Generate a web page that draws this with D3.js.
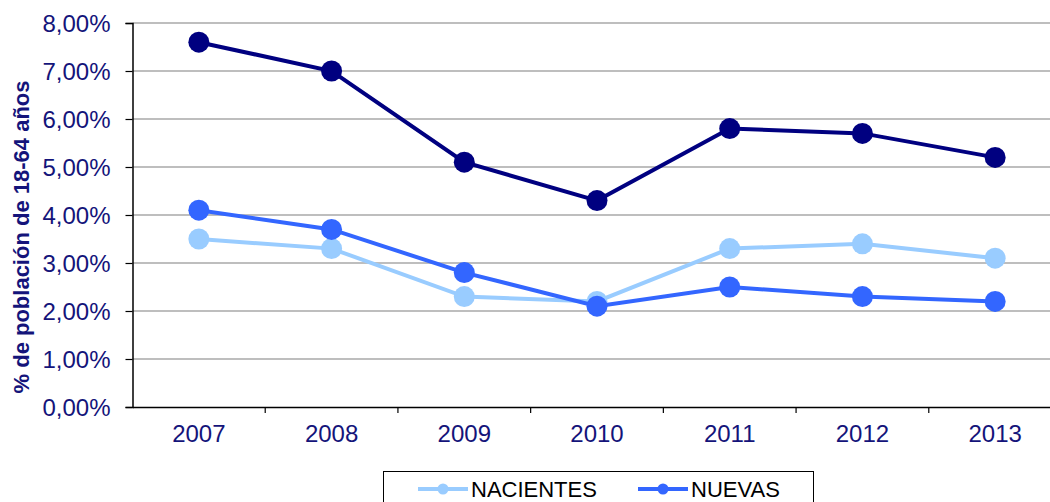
<!DOCTYPE html>
<html>
<head>
<meta charset="utf-8">
<script src="https://cdn.jsdelivr.net/npm/d3@7"></script>
<style>
  body { margin: 0; background: #fff; }
  svg { display: block; font-family: "Liberation Sans", Arial, sans-serif; }
</style>
</head>
<body>
<div id="chart"></div>
<script>
const years = ["2007", "2008", "2009", "2010", "2011", "2012", "2013"];
const tea = [7.6, 7.0, 5.1, 4.3, 5.8, 5.7, 5.2];
const nuevas = [4.1, 3.7, 2.8, 2.1, 2.5, 2.3, 2.2];
const nacientes = [3.5, 3.3, 2.3, 2.2, 3.3, 3.4, 3.1];
const yTicks = [0, 1, 2, 3, 4, 5, 6, 7, 8];

const svgWidth = 1050;
const svgHeight = 502;
const textColor = "#14147a";

const series = [
    { name: "NACIENTES", values: nacientes, color: "#99ccff" },
    { name: "NUEVAS", values: nuevas, color: "#3366ff" },
    { name: "TEA", values: tea, color: "#000080" }
];

const svg = d3.select("#chart")
    .append("svg")
    .attr("width", svgWidth)
    .attr("height", svgHeight);

const x = d3.scaleBand()
    .domain(years)
    .range([132.5, 1061.5]);

const y = d3.scaleLinear()
    .domain([0, 8])
    .range([407, 23]);

// gridlines
svg.append("g")
    .selectAll("line")
    .data(yTicks.filter(d => d > 0))
    .enter()
    .append("line")
    .attr("x1", 132.5)
    .attr("x2", svgWidth)
    .attr("y1", d => y(d))
    .attr("y2", d => y(d))
    .attr("stroke", "#a8a8a8")
    .attr("stroke-width", 1.5);

// y axis
const yAxis = svg.append("g")
    .attr("transform", "translate(132.5,0)")
    .call(d3.axisLeft(y).tickValues(yTicks).tickSize(7).tickPadding(15)
        .tickFormat(d => d3.format(".2f")(d).replace(".", ",") + "%"));
yAxis.select(".domain").attr("stroke", "#000").attr("stroke-width", 1.5);
yAxis.selectAll(".tick line").attr("stroke", "#000").attr("stroke-width", 1.2);
yAxis.selectAll(".tick text")
    .attr("fill", textColor)
    .attr("dy", "0.36em")
    .style("font-size", "24px");

// x axis
const xAxis = svg.append("g")
    .attr("transform", "translate(0,407)")
    .call(d3.axisBottom(x).tickSize(0).tickPadding(18));
xAxis.select(".domain").attr("stroke", "#000").attr("stroke-width", 1.5);
xAxis.selectAll(".tick text")
    .attr("fill", textColor)
    .style("font-size", "24px");

// category boundary ticks
svg.append("g")
    .selectAll("line")
    .data(years.slice(1))
    .enter()
    .append("line")
    .attr("x1", d => x(d))
    .attr("x2", d => x(d))
    .attr("y1", 407)
    .attr("y2", 413)
    .attr("stroke", "#000")
    .attr("stroke-width", 1.2);

// y axis title
svg.append("text")
    .attr("transform", "translate(29,237) rotate(-90)")
    .attr("text-anchor", "middle")
    .attr("fill", textColor)
    .style("font-size", "22px")
    .style("font-weight", "bold")
    .text("% de población de 18-64 años");

const line = d3.line()
    .x((d, i) => x(years[i]) + x.bandwidth() / 2)
    .y(d => y(d));

series.forEach(s => {
    const g = svg.append("g");
    g.append("path")
        .attr("d", line(s.values))
        .attr("fill", "none")
        .attr("stroke", s.color)
        .attr("stroke-width", 4);
    g.selectAll("circle")
        .data(s.values)
        .enter()
        .append("circle")
        .attr("cx", (d, i) => x(years[i]) + x.bandwidth() / 2)
        .attr("cy", d => y(d))
        .attr("r", 10.5)
        .attr("fill", s.color);
});

// legend (cut off at bottom)
const legend = svg.append("g");
legend.append("rect")
    .attr("x", 383.5)
    .attr("y", 471.5)
    .attr("width", 430)
    .attr("height", 60)
    .attr("fill", "#fff")
    .attr("stroke", "#000")
    .attr("stroke-width", 1);

const legendX = [418, 638];
series.slice(0, 2).forEach((s, i) => {
    const lx = legendX[i];
    legend.append("line")
        .attr("x1", lx)
        .attr("x2", lx + 50)
        .attr("y1", 489)
        .attr("y2", 489)
        .attr("stroke", s.color)
        .attr("stroke-width", 4);
    legend.append("circle")
        .attr("cx", lx + 25)
        .attr("cy", 489)
        .attr("r", 5.5)
        .attr("fill", s.color);
    legend.append("text")
        .attr("x", lx + 53)
        .attr("y", 497)
        .attr("fill", "#000")
        .style("font-size", "22px")
        .text(s.name);
});
</script>
</body>
</html>
